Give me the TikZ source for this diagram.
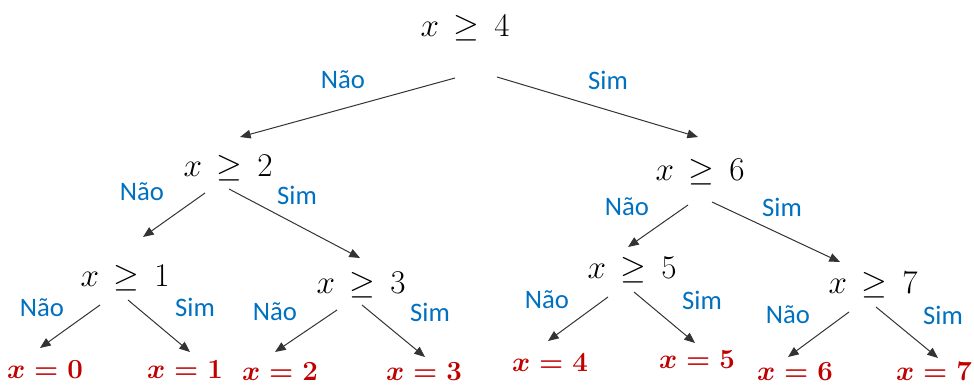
\documentclass[tikz,border=0pt]{standalone}
\usepackage{amsmath,amssymb}
\usepackage{fontspec}
\usepackage{xcolor}
\usepackage{tikz}
\usetikzlibrary{arrows.meta}
\newfontfamily\labelfont{Carlito}
\definecolor{ansblue}{RGB}{0,112,192}
\definecolor{ansred}{RGB}{192,0,0}

\begin{document}
\begin{tikzpicture}[x=0.75pt,y=-0.75pt,
  test/.style={inner sep=0pt,font=\fontsize{30}{34}\selectfont},
  leaf/.style={inner sep=0pt,text=ansred,font=\fontsize{20}{24}\selectfont\boldmath},
  ans/.style={inner sep=0pt,text=ansblue,font=\labelfont\fontsize{20}{24}\selectfont},
  arr/.style={-{Triangle[length=8pt,width=6.5pt]},line width=0.75pt,black!80}]
\useasboundingbox (0,0) rectangle (974,385);
% tests
\node[test] (r) at (465,28) {\(x \,\geq\, 4\)};
\node[test] (a) at (228,168) {\(x \,\geq\, 2\)};
\node[test] (b) at (700,172) {\(x \,\geq\, 6\)};
\node[test] (c) at (125,278) {\(x \,\geq\, 1\)};
\node[test] (d) at (361,285) {\(x \,\geq\, 3\)};
\node[test] (e) at (632,270) {\(x \,\geq\, 5\)};
\node[test] (f) at (873,285) {\(x \,\geq\, 7\)};
% leaves
\node[leaf] (l0) at (45,370) {\(x = 0\)};
\node[leaf] (l1) at (185,370) {\(x = 1\)};
\node[leaf] (l2) at (280,372) {\(x = 2\)};
\node[leaf] (l3) at (424,372) {\(x = 3\)};
\node[leaf] (l4) at (550,363) {\(x = 4\)};
\node[leaf] (l5) at (697,360) {\(x = 5\)};
\node[leaf] (l6) at (795,372) {\(x = 6\)};
\node[leaf] (l7) at (934,372) {\(x = 7\)};
% answers
\node[ans] (rn) at (343,80) {Não};
\node[ans] (rs) at (608,80) {Sim};
\node[ans] (an) at (142,192) {Não};
\node[ans] (as) at (297,195) {Sim};
\node[ans] (bn) at (627,207) {Não};
\node[ans] (bs) at (782,207) {Sim};
\node[ans] (cn) at (42,308) {Não};
\node[ans] (cs) at (195,307) {Sim};
\node[ans] (dn) at (275,312) {Não};
\node[ans] (ds) at (430,312) {Sim};
\node[ans] (en) at (547,300) {Não};
\node[ans] (es) at (702,300) {Sim};
\node[ans] (fn) at (788,315) {Não};
\node[ans] (fs) at (943,315) {Sim};
% branches
\draw[arr] ([shift={(-10,50)}]r.center) -- ([shift={(12,-31)}]a.center);
\draw[arr] ([shift={(32,49)}]r.center) -- ([shift={(-2,-35)}]b.center);
\draw[arr] ([shift={(-23,25)}]a.center) -- ([shift={(18,-41)}]c.center);
\draw[arr] ([shift={(1,21)}]a.center) -- ([shift={(-1,-27)}]d.center);
\draw[arr] ([shift={(-12,33)}]b.center) -- ([shift={(-4,-23)}]e.center);
\draw[arr] ([shift={(12,30)}]b.center) -- ([shift={(-33,-23)}]f.center);
\draw[arr] ([shift={(-25,27)}]c.center) -- ([shift={(-5,-22)}]l0.center);
\draw[arr] ([shift={(3,22)}]c.center) -- ([shift={(5,-18)}]l1.center);
\draw[arr] ([shift={(-24,25)}]d.center) -- ([shift={(-5,-20)}]l2.center);
\draw[arr] ([shift={(1,20)}]d.center) -- ([shift={(1,-15)}]l3.center);
\draw[arr] ([shift={(-24,27)}]e.center) -- ([shift={(-2,-22)}]l4.center);
\draw[arr] ([shift={(2,22)}]e.center) -- ([shift={(-2,-17)}]l5.center);
\draw[arr] ([shift={(-24,27)}]f.center) -- ([shift={(-7,-15)}]l6.center);
\draw[arr] ([shift={(3,22)}]f.center) -- ([shift={(4,-14)}]l7.center);
\end{tikzpicture}
\end{document}
